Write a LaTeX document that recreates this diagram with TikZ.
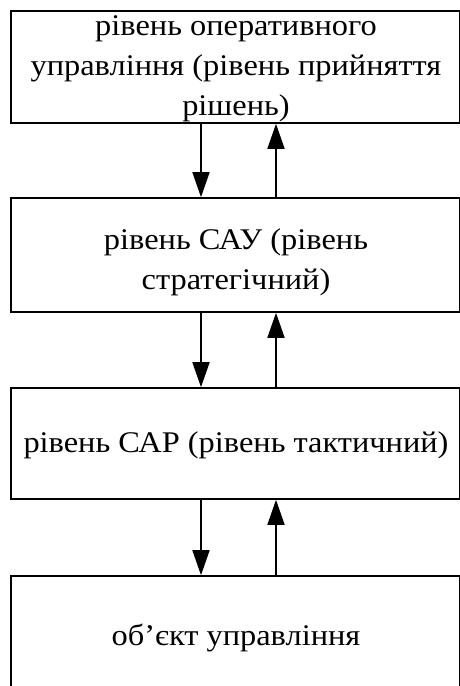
\documentclass[tikz,border=0pt]{standalone}
\usepackage{fontspec}
\setmainfont{Liberation Serif}[FakeStretch=1.08]
\usetikzlibrary{arrows.meta}
\begin{document}
\begin{tikzpicture}[x=1pt,y=-1pt,
  box/.style={draw=black, line width=1.6pt, rectangle, inner sep=0pt, minimum width=449pt},
  lbl/.style={anchor=base, inner sep=0pt, font=\fontsize{30}{40}\selectfont},
  arr/.style={draw=black, line width=1.6pt, -{Triangle[width=17pt,length=25pt]}}]
\useasboundingbox (0,0) rectangle (460,686);
\clip (0,0) rectangle (460,686);
\fill[white] (0,0) rectangle (460,686);
% boxes
\node[box, minimum height=112pt] (b1) at (235.5,67) {};
\node[box, minimum height=114pt] (b2) at (235.5,255) {};
\node[box, minimum height=111pt] (b3) at (235.5,443.5) {};
\node[box, minimum height=150pt] (b4) at (235.5,651) {};
% labels
\node[lbl] (t1a) at (236,35) {рівень оперативного};
\node[lbl] (t1b) at (236,75) {управління (рівень прийняття};
\node[lbl] (t1c) at (236,115) {рішень)};
\node[lbl] (t2a) at (236,249) {рівень САУ (рівень};
\node[lbl] (t2b) at (236,289) {стратегічний)};
\node[lbl] (t3) at (236,452) {рівень САР (рівень тактичний)};
\node[lbl] (t4) at (236,645) {об’єкт управління};
% arrows
\draw[arr] ([xshift=-34.5pt]b1.south) -- ([xshift=-34.5pt]b2.north);
\draw[arr] ([xshift=40.5pt]b2.north) -- ([xshift=40.5pt]b1.south);
\draw[arr] ([xshift=-34.5pt]b2.south) -- ([xshift=-34.5pt]b3.north);
\draw[arr] ([xshift=40.5pt]b3.north) -- ([xshift=40.5pt]b2.south);
\draw[arr] ([xshift=-34.5pt]b3.south) -- ([xshift=-34.5pt]b4.north);
\draw[arr] ([xshift=40.5pt]b4.north) -- ([xshift=40.5pt]b3.south);
\end{tikzpicture}
\end{document}
